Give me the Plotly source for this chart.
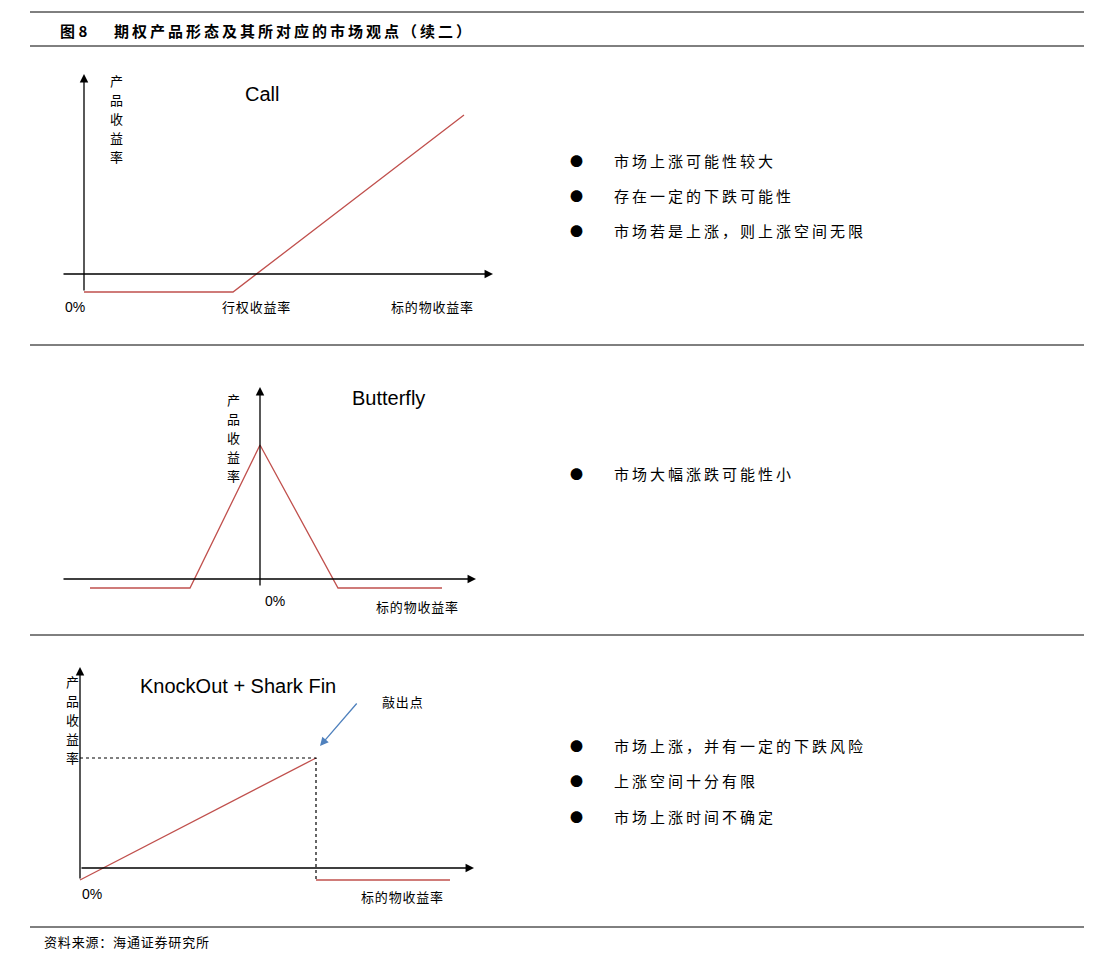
import plotly.graph_objects as go

W, H = 1113, 965
CJK = "Noto Sans CJK SC"
LAT = "Liberation Sans"
OFF = 8  # page body margin compensation

# payoff diagrams (in canvas pixel space of the figure axes)
call_x = [84, 233, 464]
call_y = [292, 292, 115]
fly_x = [90, 190, 260, 338, 442]
fly_y = [588, 588, 445, 588, 588]
ko_x = [80, 316]
ko_y = [880, 758]
ko_tail_x = [316, 450]
ko_tail_y = [880, 880]
ko_dot_x = [80, 316, 316]
ko_dot_y = [758, 758, 880]

title = "期权产品形态及其所对应的市场观点（续二）"
source = "资料来源：海通证券研究所"
bullets1 = ["市场上涨可能性较大", "存在一定的下跌可能性", "市场若是上涨，则上涨空间无限"]
bullets2 = ["市场大幅涨跌可能性小"]
bullets3 = ["市场上涨，并有一定的下跌风险", "上涨空间十分有限", "市场上涨时间不确定"]

def spaced(s, sp="\u2009"):
    return sp.join(s)

fig = go.Figure()
RED = "#c0504d"

def line(xs, ys, color="black", width=1.3, dash=None):
    fig.add_trace(go.Scatter(x=xs, y=ys, mode="lines", hoverinfo="skip",
                             line=dict(color=color, width=width, dash=dash)))

ann = []
def text(x, y, s, size=14, font=CJK, anchor="left", color="black"):
    ann.append(dict(x=x, y=y, text=s, showarrow=False, xanchor=anchor, yanchor="middle",
                    font=dict(family=font, size=size, color=color)))

def arrow(x0, y0, x1, y1, color="black", width=1.3):
    ann.append(dict(x=x1, y=y1, ax=x0, ay=y0, xref="x", yref="y", axref="x", ayref="y",
                    showarrow=True, arrowhead=2, arrowsize=1.3, arrowwidth=width,
                    arrowcolor=color, text=""))

def vtext(x, y0, s, step=19, size=13):
    for i, ch in enumerate(s):
        text(x, y0 + i * step, ch, size=size, anchor="center")

# separators
for yy in [12, 46, 345, 635, 927]:
    line([30, 1084], [yy, yy], width=1)
text(58, 30, "<b>图 8</b>", size=15)
text(112, 30, "<b>" + spaced(title) + "</b>", size=15)
text(42, 941, spaced(source, "\u200a"), size=13)

lab = lambda s: spaced(s, "\u200a")

# panel 1
arrow(84, 292, 84, 74)
arrow(62, 274, 493, 274)
line(call_x, call_y, RED)
vtext(116, 80, "产品收益率")
text(262, 94, "Call", size=20, font=LAT, anchor="center")
text(75, 307, "0%", size=14, font=LAT, anchor="center")
text(256, 306, lab("行权收益率"), size=13, anchor="center")
text(432, 306, lab("标的物收益率"), size=13, anchor="center")

# panel 2
arrow(260, 587, 260, 387)
arrow(62, 579, 476, 579)
line(fly_x, fly_y, RED)
vtext(233, 399, "产品收益率")
text(388, 398, "Butterfly", size=20, font=LAT, anchor="center")
text(275, 601, "0%", size=14, font=LAT, anchor="center")
text(417, 606, lab("标的物收益率"), size=13, anchor="center")

# panel 3
arrow(80, 880, 80, 667)
arrow(80, 868, 474, 868)
line(ko_x, ko_y, RED)
line(ko_tail_x, ko_tail_y, RED)
line(ko_dot_x, ko_dot_y, "black", 1.2, "dot")
arrow(358, 702, 320, 746, color="#4f81bd")
vtext(72, 681, "产品收益率")
text(238, 686, "KnockOut + Shark Fin", size=20, font=LAT, anchor="center")
text(92, 894, "0%", size=14, font=LAT, anchor="center")
text(402, 896, lab("标的物收益率"), size=13, anchor="center")
text(380, 701, lab("敲出点"), size=13)

# bullets
for items, ys in [(bullets1, [160, 195, 230]), (bullets2, [473]), (bullets3, [745, 780, 816])]:
    for s, yy in zip(items, ys):
        text(576, yy, "●", size=13, anchor="center")
        text(612, yy, spaced(s), size=15)

fig.update_layout(
    width=W, height=H, margin=dict(l=0, r=0, t=0, b=0),
    plot_bgcolor="white", paper_bgcolor="white", showlegend=False,
    xaxis=dict(range=[OFF, W + OFF], visible=False, fixedrange=True),
    yaxis=dict(range=[H + OFF, OFF], visible=False, fixedrange=True),
    annotations=ann,
)
fig.write_html("out.html")
